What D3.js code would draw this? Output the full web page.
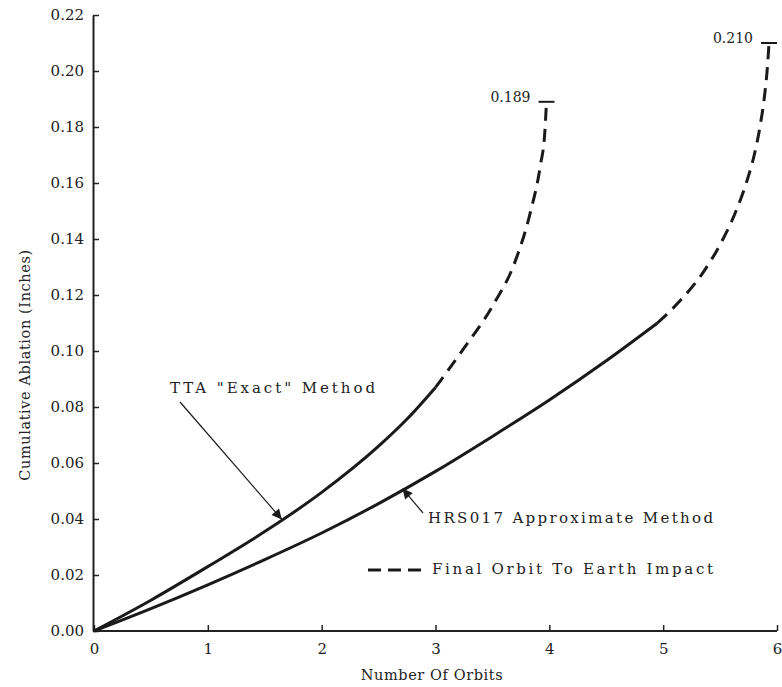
<!DOCTYPE html>
<html>
<head>
<meta charset="utf-8">
<script src="https://cdn.jsdelivr.net/npm/d3@7"></script>
<style>
  html, body { margin: 0; padding: 0; background: #fff; }
  svg { display: block; }
  text { font-family: "DejaVu Serif", "Liberation Serif", serif; fill: #222; }
</style>
</head>
<body>
<svg id="chart" width="782" height="687"></svg>
<script>
// ---- data ----
const xTicks = [0, 1, 2, 3, 4, 5, 6];
const yTicks = [0, 0.02, 0.04, 0.06, 0.08, 0.10, 0.12, 0.14, 0.16, 0.18, 0.20, 0.22];

// TTA "Exact" Method
const ttaSolidOrbits = [0, 0.5, 1, 1.5, 2, 2.5, 2.75, 3];
const ttaSolidValues = [0, 0.011, 0.023, 0.0355, 0.0495, 0.066, 0.0757, 0.087];
const ttaDashOrbits  = [3, 3.25, 3.5, 3.7, 3.83, 3.92, 3.96, 3.975];
const ttaDashValues  = [0.087, 0.101, 0.116, 0.132, 0.149, 0.166, 0.178, 0.189];

// HRS017 Approximate Method
const hrsSolidOrbits = [0, 0.5, 1, 1.5, 2, 2.5, 3, 3.5, 4, 4.5, 4.95];
const hrsSolidValues = [0, 0.008, 0.0165, 0.0255, 0.035, 0.0455, 0.057, 0.0695, 0.0825, 0.0965, 0.110];
const hrsDashOrbits  = [4.95, 5.15, 5.35, 5.50, 5.63, 5.73, 5.80, 5.85, 5.89, 5.915, 5.93];
const hrsDashValues  = [0.110, 0.118, 0.128, 0.138, 0.149, 0.160, 0.170, 0.180, 0.191, 0.201, 0.210];

const endLabels = ["0.189", "0.210"];

// ---- drawing ----
const svg = d3.select("#chart");
const x = d3.scaleLinear().domain([0, 6]).range([94, 777]);
const y = d3.scaleLinear().domain([0, 0.22]).range([631, 15]);

const zip = (a, b) => a.map((v, i) => [v, b[i]]);
const line = d3.line().x(d => x(d[0])).y(d => y(d[1])).curve(d3.curveMonotoneX);

// axes
const xAxis = d3.axisBottom(x).tickValues(xTicks).tickSizeInner(-6).tickSizeOuter(0)
  .tickPadding(12).tickFormat(d3.format("d"));
const gx = svg.append("g").attr("transform", `translate(0,${y(0)})`).call(xAxis);
gx.select(".domain").attr("stroke", "#222").attr("stroke-width", 2).attr("d", `M${x(0)-1},0H${x(6)}`);
gx.selectAll(".tick line").attr("stroke", "#222").attr("stroke-width", 1.5);
gx.selectAll(".tick text").attr("font-size", 15).attr("font-family", "DejaVu Serif").attr("fill", "#222");

const yAxis = d3.axisLeft(y).tickValues(yTicks).tickSizeInner(-6).tickSizeOuter(0)
  .tickPadding(9).tickFormat(d3.format(".2f"));
const gy = svg.append("g").attr("transform", `translate(${x(0)-1},0)`).call(yAxis);
gy.select(".domain").attr("stroke", "#222").attr("stroke-width", 2);
gy.selectAll(".tick line").attr("stroke", "#222").attr("stroke-width", 1.5);
gy.selectAll(".tick text").attr("font-size", 15).attr("font-family", "DejaVu Serif").attr("fill", "#222");

// axis titles
svg.append("text").attr("x", 432).attr("y", 680).attr("text-anchor", "middle")
  .attr("font-size", 14.5).attr("letter-spacing", 0.6).text("Number Of Orbits");
svg.append("text").attr("transform", "translate(30,365) rotate(-90)")
  .attr("text-anchor", "middle").attr("font-size", 14.5).attr("letter-spacing", 0.6)
  .text("Cumulative Ablation (Inches)");

// curves
const curves = [
  [zip(ttaSolidOrbits, ttaSolidValues), null],
  [zip(ttaDashOrbits, ttaDashValues), "13,8"],
  [zip(hrsSolidOrbits, hrsSolidValues), null],
  [zip(hrsDashOrbits, hrsDashValues), "13,8"]
];
curves.forEach(([pts, dash]) => {
  svg.append("path").attr("d", line(pts)).attr("fill", "none")
    .attr("stroke", "#1a1a1a").attr("stroke-width", 3)
    .attr("stroke-dasharray", dash);
});

// end caps with values
[[ttaDashOrbits, ttaDashValues, endLabels[0]], [hrsDashOrbits, hrsDashValues, endLabels[1]]]
  .forEach(([xs, ys, lab]) => {
    const ex = x(xs[xs.length - 1]), ey = y(ys[ys.length - 1]);
    svg.append("line").attr("x1", ex - 8).attr("x2", ex + 8).attr("y1", ey).attr("y2", ey)
      .attr("stroke", "#1a1a1a").attr("stroke-width", 2);
    svg.append("text").attr("x", ex - 16).attr("y", ey).attr("text-anchor", "end")
      .attr("font-size", 14).text(lab);
  });

// arrow marker
svg.append("defs").append("marker").attr("id", "ah").attr("viewBox", "0 0 10 10")
  .attr("refX", 10).attr("refY", 5).attr("markerWidth", 14).attr("markerHeight", 10)
  .attr("markerUnits", "userSpaceOnUse").attr("orient", "auto")
  .append("path").attr("d", "M0,0L10,5L0,10z").attr("fill", "#1a1a1a");

// annotations
function annotate(tipOrbit, tipVal, fromX, fromY, label, lx, ly, len) {
  svg.append("line").attr("x1", fromX).attr("y1", fromY)
    .attr("x2", x(tipOrbit)).attr("y2", y(tipVal) - 1)
    .attr("stroke", "#1a1a1a").attr("stroke-width", 1.2).attr("marker-end", "url(#ah)");
  svg.append("text").attr("x", lx).attr("y", ly).attr("font-size", 15)
    .attr("textLength", len).attr("lengthAdjust", "spacing").text(label);
}
annotate(1.65, 0.0395, 180, 402, 'TTA "Exact" Method', 170, 393, 205);
annotate(2.71, 0.0505, 423, 513, "HRS017 Approximate Method", 428, 523, 285);

// legend
svg.append("line").attr("x1", 368).attr("x2", 421).attr("y1", 570).attr("y2", 570)
  .attr("stroke", "#1a1a1a").attr("stroke-width", 3).attr("stroke-dasharray", "13,7");
svg.append("text").attr("x", 432).attr("y", 574).attr("font-size", 15)
  .attr("textLength", 281).attr("lengthAdjust", "spacing").text("Final Orbit To Earth Impact");
</script>
</body>
</html>
